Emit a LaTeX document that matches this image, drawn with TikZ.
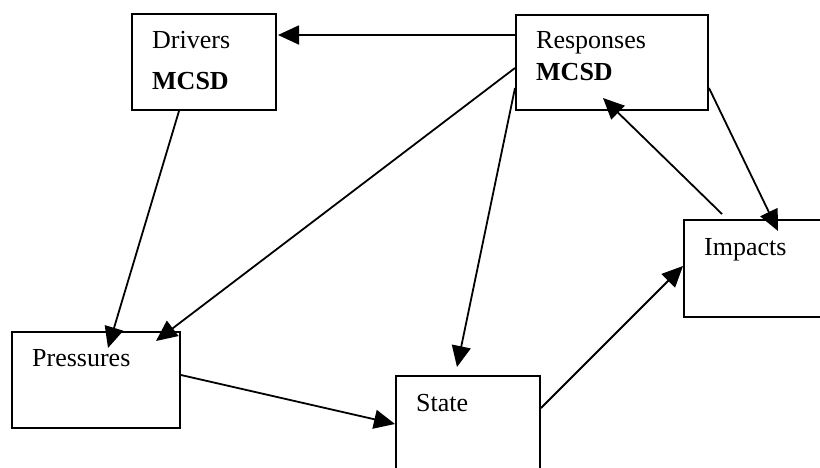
\documentclass[tikz,border=0pt]{standalone}
\usepackage{fontspec}
\setmainfont{Liberation Serif}
\usetikzlibrary{arrows.meta,calc}
\begin{document}
\begin{tikzpicture}[x=1pt,y=-1pt,
  box/.style={draw=black,line width=2pt,fill=none,inner sep=0pt,anchor=north west},
  lbl/.style={inner sep=0pt,anchor=base west,font=\fontsize{26}{30}\selectfont},
  arr/.style={line width=1.8pt,-{Triangle[length=21pt,width=19pt]}}]
\useasboundingbox (0,0) rectangle (820,467);
\clip (0,0) rectangle (820,467);
\fill[white] (0,0) rectangle (820,467);
% boxes
\node[box,minimum width=144pt,minimum height=96pt] (drv) at (131,13) {};
\node[box,minimum width=192pt,minimum height=95pt] (resp) at (515,14) {};
\node[box,minimum width=160pt,minimum height=97pt] (imp) at (683,219) {};
\node[box,minimum width=168pt,minimum height=96pt] (pres) at (11,331) {};
\node[box,minimum width=144pt,minimum height=110pt] (state) at (395,375) {};
% labels
\node[lbl] (drvt) at (152,48) {Drivers};
\node[lbl] (drvm) at (152,89) {\textbf{MCSD}};
\node[lbl] (respt) at (536,48) {Responses};
\node[lbl] (respm) at (536,80) {\textbf{MCSD}};
\node[lbl] (impt) at (704,255) {Impacts};
\node[lbl] (prest) at (32,366) {Pressures};
\node[lbl] (statet) at (416,411) {State};
% connectors
\draw[arr] ($(resp.north west)+(0,21)$) -- ($(drv.north east)+(1,22)$);
\draw[arr] ($(resp.north west)+(0,54)$) -- ($(pres.north west)+(145,10)$);
\draw[arr] ($(resp.north west)+(0,74)$) -- ($(state.north west)+(62,-8)$);
\draw[arr] ($(drv.south west)+(48,0)$) -- ($(pres.north west)+(97,17)$);
\draw[arr] ($(pres.north east)+(0,44)$) -- ($(state.north west)+(0,49)$);
\draw[arr] ($(state.north east)+(0,33)$) -- ($(imp.north west)+(0,47)$);
\draw[arr] ($(imp.north west)+(39,-5)$) -- ($(resp.north west)+(88,84)$);
\draw[arr] ($(resp.north east)+(0,74)$) -- ($(imp.north west)+(95,12)$);
\end{tikzpicture}
\end{document}
